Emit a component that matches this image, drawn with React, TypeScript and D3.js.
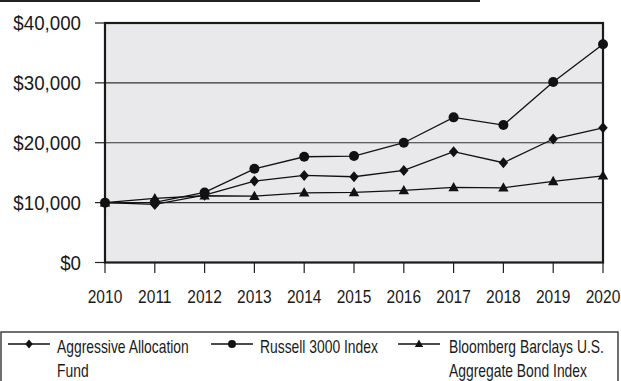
import React from "react";
import * as d3 from "d3";

// Growth of a $10,000 investment, 2010–2020
const years = [2010, 2011, 2012, 2013, 2014, 2015, 2016, 2017, 2018, 2019, 2020];
const fundValues = [10000, 9700, 11250, 13600, 14550, 14320, 15380, 18500, 16660, 20620, 22500];
const russellValues = [10000, 10050, 11700, 15650, 17660, 17780, 20000, 24240, 22960, 30150, 36450];
const bondValues = [10000, 10700, 11150, 11080, 11640, 11700, 12040, 12540, 12480, 13550, 14480];
const yTicks = [0, 10000, 20000, 30000, 40000];
const seriesNames = ["Aggressive Allocation|Fund", "Russell 3000 Index", "Bloomberg Barclays U.S.|Aggregate Bond Index"];

const W = 621;
const H = 381;
const plot = { left: 105, right: 603, top: 23, bottom: 262.5 };
const FONT = "'Liberation Sans', Arial, Helvetica, sans-serif";

const x = d3.scaleLinear().domain([2010, 2020]).range([plot.left, plot.right]);
const y = d3.scaleLinear().domain([0, 40000]).range([plot.bottom, plot.top]);
const fmt = (v: number) => "$" + d3.format(",")(v);

type Shape = "diamond" | "circle" | "triangle";

function Marker({ cx, cy, shape, k = 1 }: { cx: number; cy: number; shape: Shape; k?: number }) {
  if (shape === "circle") return <circle cx={cx} cy={cy} r={5 * k} fill="#111" />;
  if (shape === "diamond")
    return (
      <path
        d={`M${cx},${cy - 5.5 * k} L${cx + 4.7 * k},${cy} L${cx},${cy + 5.5 * k} L${cx - 4.7 * k},${cy} Z`}
        fill="#111"
      />
    );
  return (
    <path d={`M${cx},${cy - 5.5 * k} L${cx + 5.2 * k},${cy + 3.8 * k} L${cx - 5.2 * k},${cy + 3.8 * k} Z`} fill="#111" />
  );
}

const series: { values: number[]; shape: Shape }[] = [
  { values: bondValues, shape: "triangle" },
  { values: fundValues, shape: "diamond" },
  { values: russellValues, shape: "circle" },
];

const line = d3
  .line<number>()
  .x((_, i) => x(years[i]))
  .y((d) => y(d));

const legendItems: { shape: Shape; x0: number; x1: number; tx: number; label: string }[] = [
  { shape: "diamond", x0: 8, x1: 50, tx: 57, label: seriesNames[0] },
  { shape: "circle", x0: 211, x1: 253, tx: 260, label: seriesNames[1] },
  { shape: "triangle", x0: 398, x1: 440, tx: 449, label: seriesNames[2] },
];

export default function App() {
  return (
    <svg width={W} height={H} style={{ position: "absolute", left: 0, top: 0, background: "#fff" }}>
      {/* rule across the top */}
      <line x1={0} x2={480} y1={1} y2={1} stroke="#222" strokeWidth={1.8} />

      {/* plot background */}
      <rect x={plot.left} y={plot.top} width={plot.right - plot.left} height={plot.bottom - plot.top} fill="#e9e9eb" />

      {/* horizontal gridlines */}
      {yTicks.slice(1, -1).map((t) => (
        <line key={t} x1={plot.left} x2={plot.right} y1={y(t)} y2={y(t)} stroke="#333" strokeWidth={1.1} />
      ))}

      {/* y axis ticks and labels */}
      {yTicks.map((t) => (
        <g key={t}>
          <line x1={95} x2={plot.left} y1={y(t)} y2={y(t)} stroke="#222" strokeWidth={1.2} />
          <text
            transform={`translate(81,${y(t) + 7}) scale(0.96,1)`}
            textAnchor="end"
            fontFamily={FONT}
            fontSize={19.5}
            fill="#1a1a1a"
          >
            {fmt(t)}
          </text>
        </g>
      ))}

      {/* x axis ticks and labels */}
      {years.map((yr) => (
        <g key={yr}>
          <line x1={x(yr)} x2={x(yr)} y1={plot.bottom} y2={273} stroke="#222" strokeWidth={1.2} />
          <text
            transform={`translate(${x(yr)},303) scale(0.84,1)`}
            textAnchor="middle"
            fontFamily={FONT}
            fontSize={18.5}
            fill="#1a1a1a"
          >
            {yr}
          </text>
        </g>
      ))}

      {/* plot frame */}
      <rect
        x={plot.left}
        y={plot.top}
        width={plot.right - plot.left}
        height={plot.bottom - plot.top}
        fill="none"
        stroke="#1a1a1a"
        strokeWidth={2.2}
      />

      {/* series lines and markers */}
      {series.map((s, si) => (
        <g key={si}>
          <path d={line(s.values) ?? ""} fill="none" stroke="#111" strokeWidth={1.3} />
          {s.values.map((v, i) => (
            <Marker key={i} cx={x(years[i])} cy={y(v)} shape={s.shape} />
          ))}
        </g>
      ))}

      {/* legend */}
      <rect x={1} y={332} width={617} height={60} fill="none" stroke="#333" strokeWidth={1.4} />
      {legendItems.map((it, i) => (
        <g key={i}>
          <line x1={it.x0} x2={it.x1} y1={344} y2={344} stroke="#111" strokeWidth={1.3} />
          <Marker cx={(it.x0 + it.x1) / 2} cy={344} shape={it.shape} k={0.8} />
          {it.label.split("|").map((ln, j) => (
            <text
              key={j}
              transform={`translate(${it.tx},${352.5 + j * 24}) scale(0.73,1)`}
              fontFamily={FONT}
              fontSize={19}
              fill="#1a1a1a"
            >
              {ln}
            </text>
          ))}
        </g>
      ))}
    </svg>
  );
}
